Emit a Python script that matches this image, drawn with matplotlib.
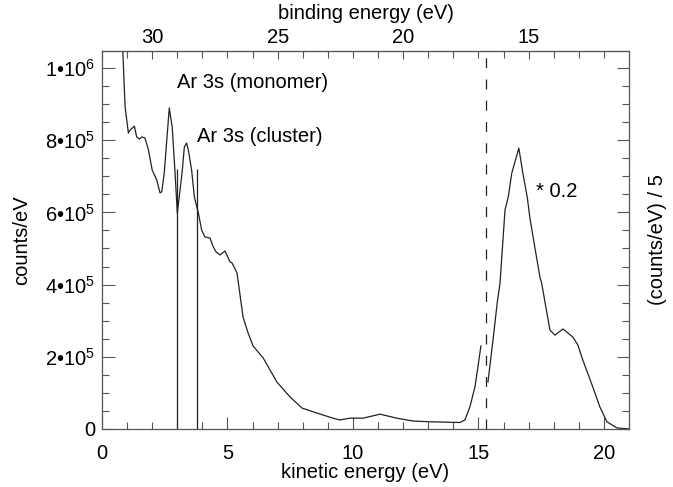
import numpy as np
import matplotlib
matplotlib.use("Agg")
import matplotlib.pyplot as plt
from matplotlib.ticker import MultipleLocator, FixedLocator

plt.rcParams['font.family'] = ['Liberation Sans', 'DejaVu Sans']
plt.rcParams['mathtext.fontset'] = 'custom'
plt.rcParams['mathtext.rm'] = 'Liberation Sans'
plt.rcParams['mathtext.it'] = 'Liberation Sans'

# photon energy: binding = hv - kinetic
hv = 32.0

# spectrum below the dashed line (counts/eV, in units of 1e5)
ke_low = [0.82, 0.92, 1.05, 1.12, 1.29, 1.38, 1.49, 1.58, 1.71, 1.85, 2.0, 2.18,
          2.31, 2.38, 2.48, 2.58, 2.68, 2.8, 2.91, 3.0, 3.11, 3.2, 3.28, 3.37,
          3.44, 3.57, 3.68, 3.84, 3.97, 4.1, 4.3, 4.43, 4.55, 4.7, 4.9, 5.1,
          5.18, 5.38, 5.62, 5.82, 6.02, 6.2, 6.42, 6.97, 7.49, 7.97, 8.57, 9.2,
          9.48, 9.88, 10.4, 11.08, 11.75, 12.4, 13.07, 14.26, 14.46, 14.66,
          14.86, 14.98, 15.1]
cts_low = [10.6, 8.92, 8.2, 8.28, 8.39, 8.09, 8.03, 8.09, 8.06, 7.73, 7.17, 6.9,
           6.54, 6.57, 7.09, 8.0, 8.89, 8.34, 7.09, 5.98, 6.62, 7.17, 7.81, 7.92,
           7.73, 7.17, 6.43, 5.98, 5.51, 5.32, 5.29, 5.05, 4.9, 4.82, 4.93, 4.63,
           4.6, 4.32, 3.1, 2.66, 2.3, 2.15, 1.97, 1.3, 0.89, 0.58, 0.44, 0.30,
           0.25, 0.30, 0.30, 0.41, 0.30, 0.22, 0.20, 0.18, 0.25, 0.61,
           1.16, 1.72, 2.30]

# spectrum above the dashed line, multiplied by 0.2
ke_high = [15.38, 15.58, 15.75, 15.86, 16.06, 16.19, 16.33, 16.61, 16.77, 16.95,
           17.05, 17.2, 17.45, 17.52, 17.85, 18.05, 18.37, 18.76, 18.96, 19.16,
           19.56, 19.84, 20.12, 20.52, 21.0]
cts_high = [1.3, 2.46, 3.5, 4.04, 6.07, 6.43, 7.09, 7.78, 7.09, 6.4,
            5.85, 5.23, 4.21, 4.04, 2.74, 2.6, 2.77, 2.55, 2.33, 1.91,
            1.16, 0.61, 0.2, 0.03, 0.0]

ke_monomer = 3.0
ke_cluster = 3.8
ke_dashed = 15.3

fs = 14.5
fig = plt.figure(figsize=(6.73, 4.87), dpi=100)
ax = fig.add_axes([0.1516, 0.1191, 0.7830, 0.7762])

lc = '#222222'
ax.plot(ke_low, np.array(cts_low) * 1e5, color=lc, lw=0.9)
ax.plot(ke_high, np.array(cts_high) * 1e5, color=lc, lw=0.9)
ax.vlines([ke_monomer, ke_cluster], 0, 7.2e5, color=lc, lw=0.9)
ax.axvline(ke_dashed, color=lc, lw=0.9, dashes=(8, 9))

ax.set_xlim(0, 21)
ax.set_ylim(0, 1.047e6)

ax.text(ke_monomer, 9.6e5, 'Ar 3s (monomer)', fontsize=fs, va='center', ha='left')
ax.text(ke_cluster, 8.1e5, 'Ar 3s (cluster)', fontsize=fs, va='center', ha='left')
ax.text(17.3, 6.57e5, '* 0.2', fontsize=fs, va='center', ha='left')

ax.xaxis.set_major_locator(MultipleLocator(5))
ax.xaxis.set_minor_locator(MultipleLocator(1))
ax.yaxis.set_minor_locator(MultipleLocator(5e4))
ylabs = ['0', r'2•10$^5$', r'4•10$^5$', r'6•10$^5$', r'8•10$^5$', r'1•10$^6$']
ax.set_yticks([0, 2e5, 4e5, 6e5, 8e5, 1e6])
ax.set_yticklabels(ylabs)
ax.tick_params(which='both', direction='in', labelsize=fs, color='#555555', width=0.8)
ax.tick_params(which='major', length=9)
ax.tick_params(which='minor', length=5)
ax.tick_params(axis='y', which='both', right=True, pad=5)
ax.tick_params(axis='x', pad=11)
for s in ax.spines.values():
    s.set_color('#555555')
    s.set_linewidth(0.9)

ax.set_xlabel('kinetic energy (eV)', fontsize=fs, labelpad=0)
ax.set_ylabel('counts/eV', fontsize=fs, labelpad=10)

ax2 = ax.twinx()
ax2.set_ylim(ax.get_ylim())
ax2.set_yticks([0, 2e5, 4e5, 6e5, 8e5, 1e6])
ax2.yaxis.set_minor_locator(MultipleLocator(5e4))
ax2.set_yticklabels([])
ax2.tick_params(which='both', direction='in', color='#555555', width=0.8)
ax2.tick_params(which='major', length=9)
ax2.tick_params(which='minor', length=5)
ax2.set_ylabel('(counts/eV) / 5', fontsize=fs, labelpad=10)
for s in ax2.spines.values():
    s.set_visible(False)

top = ax.secondary_xaxis('top', functions=(lambda k: hv - k, lambda b: hv - b))
top.xaxis.set_major_locator(FixedLocator([30, 25, 20, 15]))
top.xaxis.set_minor_locator(FixedLocator(np.arange(12, 33, 1)))
top.tick_params(which='both', direction='in', labelsize=fs, color='#555555', width=0.8)
top.tick_params(which='major', length=6, pad=3)
top.tick_params(which='minor', length=5)
top.spines['top'].set_color('#555555')
top.set_xlabel('binding energy (eV)', fontsize=fs, labelpad=6)

fig.savefig('out.png', dpi=100)
